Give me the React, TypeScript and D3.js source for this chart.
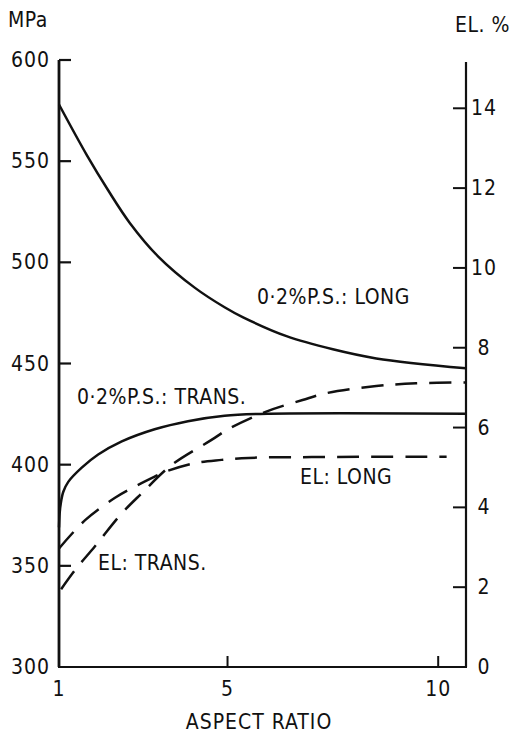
import * as d3 from "d3";

// 0.2% proof stress, longitudinal (MPa, left axis)
const psLongX = [1.0, 1.66, 2.17, 2.68, 3.35, 4.22, 4.93, 5.37, 6.4, 7.5, 8.53, 10.66];
const psLongY = [578, 553, 535.5, 519.5, 503, 487.5, 477.8, 472.8, 463.5, 457, 452.5, 447.6];

// 0.2% proof stress, transverse (MPa, left axis)
const psTransX = [1.0, 1.03, 1.1, 1.22, 1.54, 1.93, 2.49, 3.27, 4.06, 4.93, 6.0, 10.66];
const psTransY = [369, 379, 386.5, 391.5, 398.5, 405, 411.5, 417.5, 421.5, 424.2, 425.2, 425.2];

// elongation, longitudinal (%, right axis)
const elLongX = [1.0, 1.62, 2.33, 2.8, 3.27, 3.51, 4.22, 4.86, 5.5, 7.0, 10.2];
const elLongY = [2.97, 3.68, 4.24, 4.52, 4.77, 4.89, 5.11, 5.19, 5.24, 5.26, 5.27];

// elongation, transverse (%, right axis)
const elTransX = [1.05, 1.38, 1.85, 2.49, 2.96, 3.67, 4.62, 5.05, 5.92, 6.78, 7.34, 8.53, 9.48, 10.66];
const elTransY = [1.95, 2.43, 3.02, 3.85, 4.35, 5.06, 5.69, 5.98, 6.4, 6.69, 6.86, 7.04, 7.11, 7.13];

const mpaTicks = [600, 550, 500, 450, 400, 350, 300];
const elTicks = [0, 2, 4, 6, 8, 10, 12, 14];
const ratioTicks = [1, 5, 10];

const W = 512;
const H = 734;
const font = "'DejaVu Sans Condensed', 'DejaVu Sans', sans-serif";

export default function App() {
  const x = d3.scaleLinear().domain([1, 10.66]).range([59, 466]);
  const yL = d3.scaleLinear().domain([300, 600]).range([667, 60]);
  const yR = d3.scaleLinear().domain([0, 15.16]).range([667, 62]);

  const pts = (xs: number[], ys: number[]) => xs.map((v, i) => [v, ys[i]] as [number, number]);
  const smooth = d3.curveCatmullRom.alpha(0.5);
  const lineL = d3.line<[number, number]>().x((d) => x(d[0])).y((d) => yL(d[1])).curve(smooth);
  const lineR = d3.line<[number, number]>().x((d) => x(d[0])).y((d) => yR(d[1])).curve(smooth);

  const txt = { fontFamily: font, fill: "#111" } as const;
  const xEnd = x.range()[1];

  return (
    <svg width={W} height={H} style={{ position: "absolute", left: 0, top: 0 }}>
      <rect width={W} height={H} fill="#fff" />
      {/* axes */}
      <g stroke="#111" fill="none">
        <line x1={x(1)} x2={x(1)} y1={yL(600)} y2={667} strokeWidth={2.8} />
        <line x1={xEnd} x2={xEnd} y1={62} y2={667} strokeWidth={2.2} />
        <line x1={x(1) - 1} x2={xEnd + 1} y1={667} y2={667} strokeWidth={2.2} />
        {mpaTicks.filter((t) => t > 300).map((t) => (
          <line key={t} x1={x(1)} x2={x(1) + 12} y1={yL(t)} y2={yL(t)} strokeWidth={2.2} />
        ))}
        {elTicks.filter((t) => t > 0).map((t) => (
          <line key={t} x1={xEnd} x2={xEnd - 13} y1={yR(t)} y2={yR(t)} strokeWidth={2} />
        ))}
        {ratioTicks.filter((t) => t > 1).map((t) => (
          <line key={t} x1={x(t)} x2={x(t)} y1={667} y2={656} strokeWidth={2} />
        ))}
      </g>

      {/* curves */}
      <g fill="none" stroke="#111" strokeWidth={2.5}>
        <path d={lineL(pts(psLongX, psLongY)) || ""} />
        <path d={lineL(pts(psTransX, psTransY)) || ""} />
        <path d={lineR(pts(elLongX, elLongY)) || ""} strokeDasharray="22 12" />
        <path d={lineR(pts(elTransX, elTransY)) || ""} strokeDasharray="22 12" />
      </g>

      {/* tick labels */}
      <g {...txt} fontSize={21} letterSpacing={1}>
        {mpaTicks.map((t) => (
          <text key={t} x={50} y={yL(t)} textAnchor="end" dominantBaseline="central">{t}</text>
        ))}
        {elTicks.map((t) => (
          <text key={t} x={484} y={yR(t)} textAnchor="middle" dominantBaseline="central">{t}</text>
        ))}
        {ratioTicks.map((t) => (
          <text key={t} x={x(t)} y={689} textAnchor="middle" dominantBaseline="central">{t}</text>
        ))}
      </g>

      {/* titles and curve labels */}
      <g {...txt} fontSize={21} letterSpacing={0.5}>
        <text x={8} y={20} dominantBaseline="central">MPa</text>
        <text x={510} y={25} textAnchor="end" dominantBaseline="central">EL. %</text>
        <text x={259} y={722} textAnchor="middle" dominantBaseline="central" letterSpacing={1}>ASPECT RATIO</text>
        <text x={257} y={297} dominantBaseline="central">0·2%P.S.: LONG</text>
        <text x={77} y={397} dominantBaseline="central">0·2%P.S.: TRANS.</text>
        <text x={300} y={477} dominantBaseline="central">EL: LONG</text>
        <text x={98} y={563} dominantBaseline="central">EL: TRANS.</text>
      </g>
    </svg>
  );
}
